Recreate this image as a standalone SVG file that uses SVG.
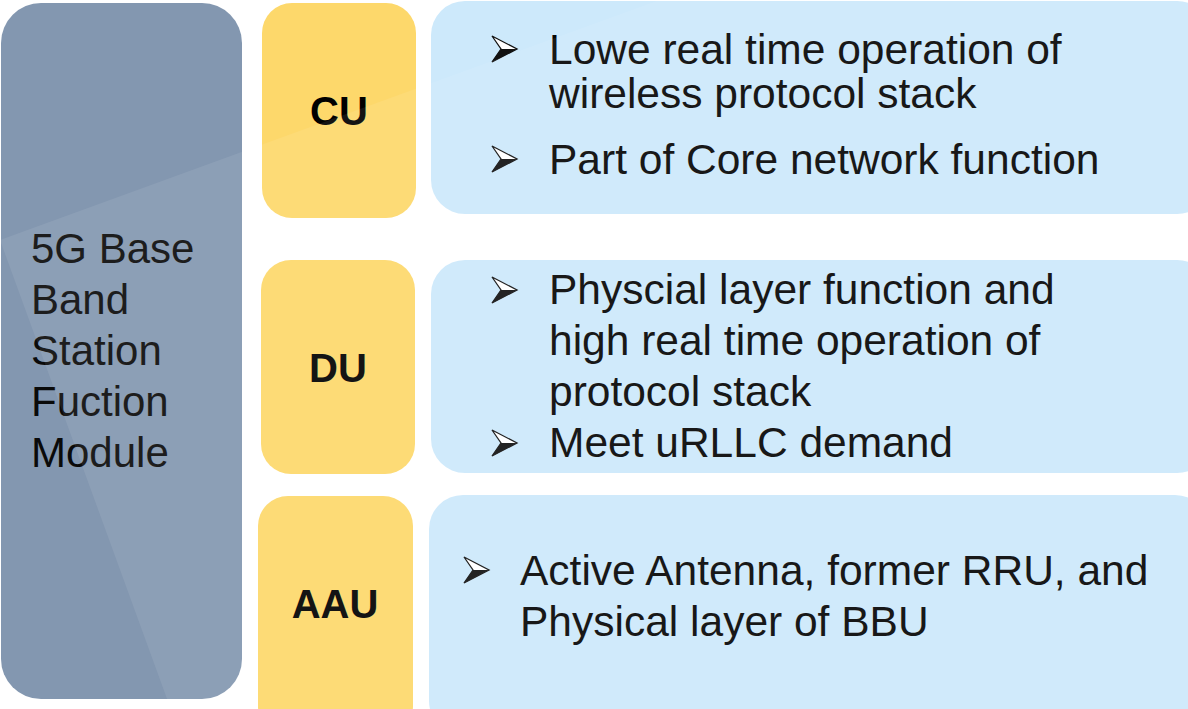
<svg xmlns="http://www.w3.org/2000/svg" width="1188" height="709" viewBox="0 0 1188 709">
  <style>
    .module { fill: #8397b0; }
    .unit { fill: #fdd86b; }
    .desc { fill: #cde9fb; }
    .lbl { font-family: "Liberation Sans", Arial, sans-serif; font-weight: bold; font-size: 40px; fill: #000; text-anchor: middle; }
    .txt { font-family: "Liberation Sans", Arial, sans-serif; font-size: 42.5px; fill: #050505; }
    .side { font-family: "Liberation Sans", Arial, sans-serif; font-size: 42px; fill: #0a0a0a; }
  </style>
  <defs>
    <!-- arrowhead bullet: outlined upper half, filled lower half -->
    <g id="bullet">
      <path d="M0,-13 L25,0 L0,13 L9,0 Z" fill="#fff" stroke="#111" stroke-width="1.3" stroke-linejoin="miter"/>
      <path d="M9,0 L25,0 L0,13 Z" fill="#111"/>
    </g>
  </defs>

  <rect width="1188" height="709" fill="#ffffff"/>

  <g id="module">
    <rect class="module" x="1" y="3" width="241" height="696" rx="40" ry="40"/>
    <text class="side" x="31" y="263">5G Base</text>
    <text class="side" x="31" y="314">Band</text>
    <text class="side" x="31" y="365">Station</text>
    <text class="side" x="31" y="416">Fuction</text>
    <text class="side" x="31" y="467">Module</text>
  </g>

  <g id="cu">
    <rect class="unit" x="262" y="3" width="154" height="215" rx="30" ry="30"/>
    <text class="lbl" x="339" y="125">CU</text>
  </g>
  <g id="cu-desc">
    <rect class="desc" x="431" y="1" width="780" height="213" rx="34" ry="34"/>
    <use href="#bullet" x="492" y="49"/>
    <text class="txt" x="549" y="64">Lowe real time operation of</text>
    <text class="txt" x="549" y="108">wireless protocol stack</text>
    <use href="#bullet" x="492" y="159"/>
    <text class="txt" x="549" y="174">Part of Core network function</text>
  </g>

  <g id="du">
    <rect class="unit" x="261" y="260" width="154" height="214" rx="30" ry="30"/>
    <text class="lbl" x="338" y="382">DU</text>
  </g>
  <g id="du-desc">
    <rect class="desc" x="431" y="260" width="780" height="213" rx="34" ry="34"/>
    <use href="#bullet" x="492" y="290"/>
    <text class="txt" x="549" y="304">Physcial layer function and</text>
    <text class="txt" x="549" y="355">high real time operation of</text>
    <text class="txt" x="549" y="406">protocol stack</text>
    <use href="#bullet" x="492" y="443"/>
    <text class="txt" x="549" y="457">Meet uRLLC demand</text>
  </g>

  <g id="aau">
    <rect class="unit" x="258" y="496" width="155" height="240" rx="30" ry="30"/>
    <text class="lbl" x="335" y="618">AAU</text>
  </g>
  <g id="aau-desc">
    <rect class="desc" x="429" y="495" width="780" height="240" rx="34" ry="34"/>
    <use href="#bullet" x="464" y="570"/>
    <text class="txt" x="520" y="585">Active Antenna, former RRU, and</text>
    <text class="txt" x="520" y="636">Physical layer of BBU</text>
  </g>

  <!-- faint diagonal backdrop band -->
  <g id="band" pointer-events="none">
    <rect x="0" y="240" width="1500" height="900" fill="#ffffff" opacity="0.08" transform="rotate(-20 0 240)"/>
  </g>

  <g id="connectors"/>
</svg>
